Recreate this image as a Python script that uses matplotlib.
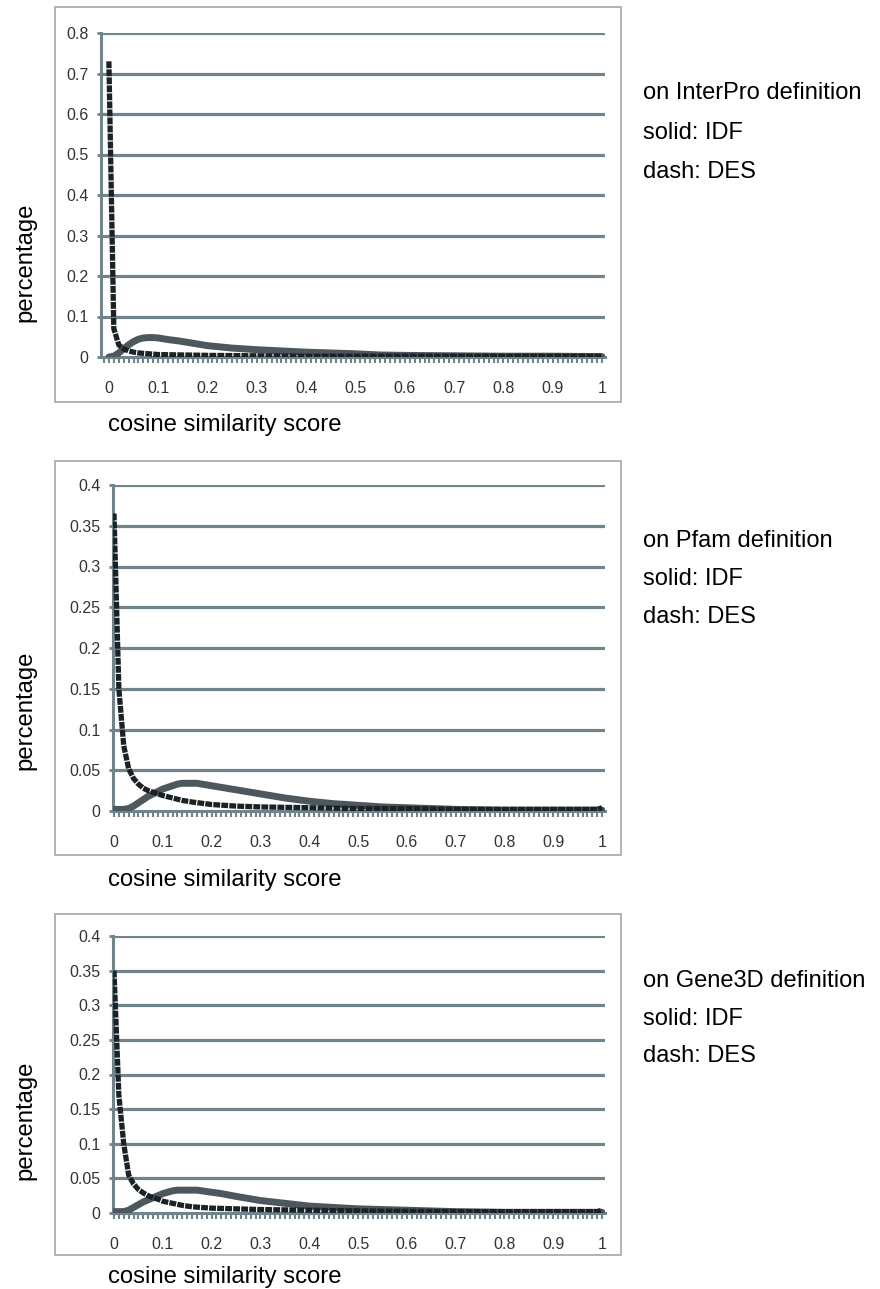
import matplotlib
matplotlib.use('Agg')
from matplotlib import pyplot as plt
from matplotlib.patches import Rectangle
from matplotlib.ticker import MultipleLocator

plt.rcParams['font.family'] = ['Liberation Sans', 'DejaVu Sans']

# --- data ----------------------------------------------------------------
# InterPro
ip_idf_x = [0, 0.01, 0.02, 0.03, 0.04, 0.05, 0.06, 0.07, 0.08, 0.09, 0.1, 0.11,
            0.12, 0.14, 0.16, 0.18, 0.2, 0.25, 0.3, 0.35, 0.4, 0.45, 0.5, 0.55,
            0.6, 0.7, 0.8, 0.9, 1.0]
ip_idf_y = [0.0, 0.002, 0.01, 0.02, 0.03, 0.038, 0.044, 0.047, 0.048, 0.048,
            0.047, 0.045, 0.043, 0.04, 0.036, 0.032, 0.028, 0.022, 0.018, 0.015,
            0.012, 0.01, 0.008, 0.005, 0.004, 0.003, 0.002, 0.002, 0.001]
ip_des_x = [0, 0.01, 0.02, 0.03, 0.04, 0.05, 0.06, 0.08, 0.1, 0.15, 0.2, 0.3,
            0.4, 0.6, 0.8, 1.0]
ip_des_y = [0.73, 0.07, 0.03, 0.02, 0.015, 0.012, 0.01, 0.008, 0.006, 0.005,
            0.004, 0.003, 0.002, 0.002, 0.002, 0.002]

# Pfam
pf_idf_x = [0, 0.02, 0.03, 0.04, 0.05, 0.06, 0.07, 0.08, 0.09, 0.1, 0.11, 0.12,
            0.13, 0.14, 0.15, 0.16, 0.17, 0.18, 0.2, 0.22, 0.25, 0.3, 0.35, 0.4,
            0.45, 0.5, 0.55, 0.6, 0.7, 0.8, 0.9, 1.0]
pf_idf_y = [0.002, 0.002, 0.003, 0.006, 0.01, 0.014, 0.018, 0.021, 0.024, 0.027,
            0.029, 0.031, 0.033, 0.034, 0.034, 0.034, 0.034, 0.033, 0.031, 0.029,
            0.026, 0.021, 0.016, 0.012, 0.009, 0.007, 0.005, 0.004, 0.002, 0.001,
            0.001, 0.001]
pf_des_x = [0, 0.01, 0.02, 0.03, 0.04, 0.05, 0.06, 0.07, 0.08, 0.09, 0.1, 0.12,
            0.14, 0.16, 0.2, 0.25, 0.3, 0.4, 0.5, 0.6, 0.7, 0.8, 0.9, 0.99, 1.0]
pf_des_y = [0.365, 0.15, 0.08, 0.052, 0.04, 0.033, 0.028, 0.025, 0.023, 0.021,
            0.019, 0.016, 0.013, 0.011, 0.008, 0.006, 0.005, 0.004, 0.003, 0.003,
            0.002, 0.002, 0.002, 0.002, 0.004]

# Gene3D
g3_idf_x = [0, 0.02, 0.03, 0.04, 0.05, 0.06, 0.07, 0.08, 0.09, 0.1, 0.11, 0.12,
            0.13, 0.14, 0.15, 0.16, 0.17, 0.18, 0.2, 0.22, 0.25, 0.3, 0.35, 0.4,
            0.45, 0.5, 0.55, 0.6, 0.7, 0.8, 1.0]
g3_idf_y = [0.002, 0.002, 0.004, 0.008, 0.012, 0.016, 0.019, 0.022, 0.025, 0.028,
            0.03, 0.032, 0.033, 0.033, 0.033, 0.033, 0.033, 0.032, 0.03, 0.028,
            0.024, 0.018, 0.014, 0.01, 0.008, 0.006, 0.005, 0.004, 0.002, 0.001,
            0.001]
g3_des_x = [0, 0.01, 0.02, 0.03, 0.04, 0.05, 0.06, 0.07, 0.08, 0.09, 0.1, 0.12,
            0.14, 0.16, 0.2, 0.25, 0.3, 0.4, 0.5, 0.7, 0.99, 1.0]
g3_des_y = [0.35, 0.17, 0.1, 0.055, 0.042, 0.034, 0.029, 0.025, 0.022, 0.02,
            0.017, 0.014, 0.011, 0.009, 0.007, 0.006, 0.005, 0.004, 0.003, 0.002,
            0.002, 0.004]

x_ticks = [0, 0.1, 0.2, 0.3, 0.4, 0.5, 0.6, 0.7, 0.8, 0.9, 1.0]
x_ticklabels = ['0', '0.1', '0.2', '0.3', '0.4', '0.5', '0.6', '0.7', '0.8', '0.9', '1']
y_ticks_ip = [0, 0.1, 0.2, 0.3, 0.4, 0.5, 0.6, 0.7, 0.8]
y_ticklabels_ip = ['0', '0.1', '0.2', '0.3', '0.4', '0.5', '0.6', '0.7', '0.8']
y_ticks_pf = [0, 0.05, 0.1, 0.15, 0.2, 0.25, 0.3, 0.35, 0.4]
y_ticklabels_pf = ['0', '0.05', '0.1', '0.15', '0.2', '0.25', '0.3', '0.35', '0.4']

notes = [['on InterPro definition', 'solid: IDF', 'dash: DES'],
         ['on Pfam definition', 'solid: IDF', 'dash: DES'],
         ['on Gene3D definition', 'solid: IDF', 'dash: DES']]

# --- layout (pixels of the 880x1289 figure) -------------------------------
W, H = 880, 1289
AXCOL = '#72848b'
IDFCOL = '#4d585d'
DESCOL = '#1b2225'

panels = [
    dict(ax=(101, 605, 33, 357), xlim=(-0.016, 1.006), frame=(55, 621, 7, 402),
         yt=y_ticks_ip, ytl=y_ticklabels_ip, ylim=(0, 0.8),
         idf=(ip_idf_x, ip_idf_y), des=(ip_des_x, ip_des_y),
         xlab_y=425, ylab_y=262, notes_y=(93, 133, 172)),
    dict(ax=(113, 605, 485, 811), xlim=(-0.002, 1.006), frame=(55, 621, 461, 855),
         yt=y_ticks_pf, ytl=y_ticklabels_pf, ylim=(0, 0.4),
         idf=(pf_idf_x, pf_idf_y), des=(pf_des_x, pf_des_y),
         xlab_y=880, ylab_y=710, notes_y=(541, 579, 617)),
    dict(ax=(113, 605, 936, 1213), xlim=(-0.002, 1.006), frame=(55, 621, 914, 1255),
         yt=y_ticks_pf, ytl=y_ticklabels_pf, ylim=(0, 0.4),
         idf=(g3_idf_x, g3_idf_y), des=(g3_des_x, g3_des_y),
         xlab_y=1277, ylab_y=1120, notes_y=(981, 1019, 1056)),
]

fig = plt.figure(figsize=(W / 100, H / 100), dpi=100)

for p, txt in zip(panels, notes):
    fl, fr, ft, fb = p['frame']
    fig.patches.append(Rectangle((fl / W, 1 - fb / H), (fr - fl) / W, (fb - ft) / H,
                                 transform=fig.transFigure, fill=False,
                                 edgecolor='#a7afb2', linewidth=1.3))

    l, r, t, b = p['ax']
    ax = fig.add_axes([l / W, 1 - b / H, (r - l) / W, (b - t) / H])
    ax.set_xlim(*p['xlim'])
    ax.set_ylim(*p['ylim'])
    for s in ['top', 'right']:
        ax.spines[s].set_visible(False)
    for s in ['left', 'bottom']:
        ax.spines[s].set_color(AXCOL)
        ax.spines[s].set_linewidth(2.2)
    ax.spines['bottom'].set_zorder(1)

    ax.set_yticks(p['yt'])
    ax.set_yticklabels(p['ytl'])
    for yv in p['yt'][1:]:
        ax.axhline(yv, color=AXCOL, linewidth=2.3, zorder=1)

    ax.set_xticks(x_ticks)
    ax.set_xticklabels(x_ticklabels)
    ax.xaxis.set_minor_locator(MultipleLocator(0.01))
    ax.tick_params(axis='x', which='both', direction='out', length=4, width=1.5,
                   color=AXCOL, pad=13, labelsize=11.5, labelcolor='#333333')
    ax.tick_params(axis='y', direction='out', length=3, width=2, color=AXCOL,
                   pad=6, labelsize=11.5, labelcolor='#333333')

    ax.plot(*p['idf'], color=IDFCOL, linewidth=5, solid_capstyle='round', zorder=3)
    ax.plot(*p['des'], color=DESCOL, linewidth=3.8, dashes=(1.3, 0.22),
            dash_capstyle='butt', zorder=4)

    fig.text(108 / W, 1 - p['xlab_y'] / H, 'cosine similarity score',
             fontsize=17.2, ha='left', va='center')
    fig.text(25 / W, 1 - p['ylab_y'] / H, 'percentage', fontsize=17.2,
             rotation=90, ha='center', va='center')
    for s, yy in zip(txt, p['notes_y']):
        fig.text(643 / W, 1 - yy / H, s, fontsize=17, ha='left', va='center')

fig.savefig('out.png', dpi=100)
